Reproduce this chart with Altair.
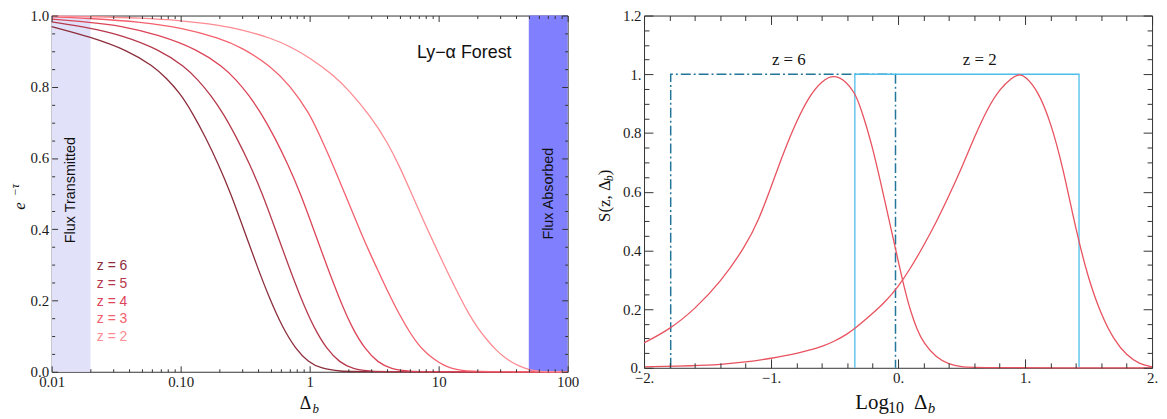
import altair as alt
import pandas as pd

# ---------------- LEFT PANEL DATA: e^{-tau} vs Delta_b ----------------
z_names = ["z = 6", "z = 5", "z = 4", "z = 3", "z = 2"]
z_colors = ["#8c2d3b", "#b6394b", "#dc4457", "#f4606d", "#fd8c93"]

delta_z6 = [0.01, 0.02, 0.039, 0.0615, 0.0775, 0.0975, 0.123, 0.155, 0.195, 0.245, 0.308, 0.388,
            0.489, 0.615, 0.775, 0.976, 1.23, 1.73, 2.45, 100]
flux_z6 = [0.969, 0.940, 0.902, 0.858, 0.824, 0.785, 0.728, 0.660, 0.585, 0.500, 0.400, 0.300,
           0.205, 0.125, 0.065, 0.027, 0.009, 0.001, 0.0, 0.0]

delta_z5 = [0.01, 0.02, 0.0341, 0.0682, 0.108, 0.136, 0.171, 0.216, 0.271, 0.342, 0.43, 0.541,
            0.682, 0.858, 1.08, 1.36, 1.71, 2.15, 3.04, 4.3, 100]
flux_z5 = [0.982, 0.965, 0.946, 0.905, 0.856, 0.820, 0.777, 0.723, 0.658, 0.584, 0.500, 0.401,
           0.300, 0.205, 0.123, 0.063, 0.026, 0.008, 0.001, 0.0, 0.0]

delta_z4 = [0.01, 0.02, 0.0339, 0.0675, 0.135, 0.213, 0.269, 0.338, 0.426, 0.536, 0.675, 0.85,
            1.07, 1.35, 1.70, 2.13, 2.69, 3.38, 4.26, 6.01, 8.5, 100]
flux_z4 = [0.990, 0.981, 0.972, 0.946, 0.905, 0.856, 0.820, 0.777, 0.723, 0.658, 0.584, 0.500,
           0.401, 0.300, 0.205, 0.123, 0.063, 0.026, 0.008, 0.001, 0.0, 0.0]

delta_z3 = [0.01, 0.02, 0.05, 0.1, 0.2, 0.3, 0.5, 0.7, 1.0, 1.18, 1.5, 2.0, 2.5, 3.0, 3.4, 4.0,
            5.0, 6.1, 7.0, 8.0, 9.3, 11.0, 12.4, 15.0, 20.0, 100]
flux_z3 = [0.996, 0.992, 0.982, 0.966, 0.937, 0.910, 0.858, 0.805, 0.725, 0.668, 0.585, 0.475,
           0.390, 0.325, 0.283, 0.228, 0.158, 0.105, 0.075, 0.053, 0.034, 0.018, 0.010, 0.003,
           0.0, 0.0]

delta_z2 = [0.01, 0.02, 0.05, 0.1, 0.2, 0.3, 0.5, 0.7, 1.0, 1.5, 2.0, 3.0, 4.0, 5.0, 6.0, 7.0,
            8.0, 10.0, 12.0, 14.6, 17.0, 20.0, 24.0, 28.0, 32.0, 36.0, 42.0, 50.0, 60.0, 70.0, 100]
flux_z2 = [0.999, 0.997, 0.993, 0.986, 0.973, 0.960, 0.937, 0.914, 0.882, 0.835, 0.792, 0.715,
           0.645, 0.575, 0.510, 0.455, 0.408, 0.332, 0.272, 0.210, 0.165, 0.123, 0.087, 0.060,
           0.042, 0.029, 0.016, 0.006, 0.0015, 0.0, 0.0]

band_names = ["Flux Transmitted", "Flux Absorbed"]
band_start = [0.01, 50]
band_end = [0.02, 100]
band_colors = ["#e1e1f9", "#8080ff"]
band_text_x = [0.0142, 71.5]
band_text_y = [0.51, 0.50]

legend_x = [0.0224] * 5
legend_y = [0.285, 0.234, 0.186, 0.136, 0.086]

forest_text = ["Ly\u2212\u03b1 Forest"]
forest_x = [15.8]
forest_y = [0.88]

left_x_major = [0.01, 0.1, 1, 10, 100]
left_x_major_labels = ["0.01", "0.10", "1", "10", "100"]
left_x_minor = [0.02, 0.03, 0.04, 0.05, 0.06, 0.07, 0.08, 0.09,
                0.2, 0.3, 0.4, 0.5, 0.6, 0.7, 0.8, 0.9,
                2, 3, 4, 5, 6, 7, 8, 9,
                20, 30, 40, 50, 60, 70, 80, 90]
left_y_major = [0.0, 0.2, 0.4, 0.6, 0.8, 1.0]
left_y_major_labels = ["0.0", "0.2", "0.4", "0.6", "0.8", "1.0"]
left_y_minor = [0.05, 0.1, 0.15, 0.25, 0.3, 0.35, 0.45, 0.5, 0.55, 0.65, 0.7, 0.75, 0.85, 0.9, 0.95]

# ---------------- RIGHT PANEL DATA: S(z, Delta_b) vs log10 Delta_b ----------------
s_z6_x = [-2.0, -1.8, -1.6, -1.4, -1.2, -1.1, -1.0, -0.9, -0.8, -0.7, -0.6, -0.5, -0.4, -0.34,
          -0.3, -0.2, -0.1, -0.02, 0.05, 0.1, 0.15, 0.2, 0.3, 0.4, 0.5, 0.6, 2.0]
s_z6_y = [0.085, 0.13, 0.20, 0.29, 0.415, 0.50, 0.615, 0.735, 0.84, 0.925, 0.978, 1.0, 0.972, 0.935,
          0.895, 0.755, 0.56, 0.405, 0.27, 0.19, 0.13, 0.085, 0.035, 0.012, 0.003, 0.0, 0.0]

s_z2_x = [-2.0, -1.6, -1.4, -1.2, -1.0, -0.8, -0.7, -0.6, -0.5, -0.4, -0.34, -0.2, -0.1, 0.0, 0.1,
          0.2, 0.3, 0.4, 0.5, 0.6, 0.7, 0.8, 0.9, 0.95, 1.0, 1.1, 1.2, 1.3, 1.4, 1.5, 1.6, 1.7,
          1.8, 1.9, 2.0]
s_z2_y = [0.003, 0.007, 0.011, 0.019, 0.032, 0.048, 0.060, 0.072, 0.090, 0.115, 0.133, 0.185,
          0.225, 0.275, 0.340, 0.415, 0.495, 0.585, 0.680, 0.785, 0.880, 0.950, 0.990, 1.0, 0.995,
          0.945, 0.840, 0.680, 0.470, 0.300, 0.180, 0.095, 0.042, 0.013, 0.003]

box_z6_x = [-1.79, -1.79, -0.02, -0.02]
box_z6_y = [0.0, 1.0, 1.0, 0.0]
box_z2_x = [-0.34, -0.34, 1.425, 1.425]
box_z2_y = [0.0, 1.0, 1.0, 0.0]

zlabel_text = ["z = 6", "z = 2"]
zlabel_x = [-0.86, 0.643]
zlabel_y = [1.03, 1.03]

right_x_major = [-2, -1, 0, 1, 2]
right_x_major_labels = ["\u22122.", "\u22121.", "0.", "1.", "2."]
right_x_minor = [-1.8, -1.6, -1.4, -1.2, -0.8, -0.6, -0.4, -0.2, 0.2, 0.4, 0.6, 0.8,
                 1.2, 1.4, 1.6, 1.8]
right_y_major = [0.0, 0.2, 0.4, 0.6, 0.8, 1.0, 1.2]
right_y_major_labels = ["0.", "0.2", "0.4", "0.6", "0.8", "1.", "1.2"]
right_y_minor = [0.05, 0.1, 0.15, 0.25, 0.3, 0.35, 0.45, 0.5, 0.55, 0.65, 0.7, 0.75, 0.85, 0.9,
                 0.95, 1.05, 1.1, 1.15]

# ---------------- helpers ----------------
SERIF = "Liberation Serif"
SANS = "Liberation Sans"


def label_expr(values, labels):
    parts = " : ".join(
        "abs(datum.value - (%r)) < 1e-9 ? '%s'" % (v, l) for v, l in zip(values, labels)
    )
    return parts + " : ''"


def tick_axis(orient, values, size, labels=None):
    kw = dict(orient=orient, values=values, tickSize=size, offset=-size, domain=False,
              grid=False, ticks=True, tickColor="#333333", tickWidth=1, title=None,
              zindex=1, labelFlush=False, labelOverlap=False)
    if labels is not None:
        kw.update(labels=True, labelExpr=label_expr(values, labels), labelFont=SERIF,
                  labelFontSize=15, labelColor="#1a1a1a", labelPadding=3)
    else:
        kw.update(labels=False)
    return alt.Axis(**kw)


def title_text(text, x, y, size, italic=False, angle=0, align="center", baseline="alphabetic",
               font=SERIF):
    return alt.Chart(pd.DataFrame({"t": [text]})).mark_text(
        font=font, fontSize=size, fontStyle="italic" if italic else "normal", angle=angle,
        align=align, baseline=baseline, color="#111111"
    ).encode(x=alt.value(x), y=alt.value(y), text="t:N")


# ---------------- LEFT PANEL ----------------
LW, LH = 520, 359
xs_l = alt.Scale(type="log", domain=[0.01, 100], nice=False)
ys_l = alt.Scale(domain=[0, 1], nice=False)

rows = []
for name, dl, fl in zip(z_names, [delta_z6, delta_z5, delta_z4, delta_z3, delta_z2],
                        [flux_z6, flux_z5, flux_z4, flux_z3, flux_z2]):
    for i, (d, f) in enumerate(zip(dl, fl)):
        rows.append({"z": name, "delta": d, "flux": f, "i": i})
curves_df = pd.DataFrame(rows)

bands_df = pd.DataFrame({"band": band_names, "x0": band_start, "x1": band_end,
                         "y0": [0, 0], "y1": [1, 1]})
band_text_df = pd.DataFrame({"t": band_names, "x": band_text_x, "y": band_text_y})
legend_df = pd.DataFrame({"z": z_names, "x": legend_x, "y": legend_y})
forest_df = pd.DataFrame({"t": forest_text, "x": forest_x, "y": forest_y})
zcolor = alt.Color("z:N", scale=alt.Scale(domain=z_names, range=z_colors), legend=None)

band_layer = alt.Chart(bands_df).mark_rect().encode(
    x=alt.X("x0:Q", scale=xs_l,
            axis=tick_axis("bottom", left_x_major, 6, left_x_major_labels)),
    x2="x1:Q",
    y=alt.Y("y0:Q", scale=ys_l,
            axis=tick_axis("left", left_y_major, 6, left_y_major_labels)),
    y2="y1:Q",
    fill=alt.Fill("band:N", scale=alt.Scale(domain=band_names, range=band_colors), legend=None),
)

curve_layer = alt.Chart(curves_df).mark_line(strokeWidth=1.3, interpolate="basis").encode(
    x=alt.X("delta:Q", scale=xs_l, axis=tick_axis("bottom", left_x_minor, 3)),
    y=alt.Y("flux:Q", scale=ys_l, axis=tick_axis("left", left_y_minor, 3)),
    color=zcolor,
    detail="z:N",
    order="i:Q",
)

legend_layer = alt.Chart(legend_df).mark_text(
    font=SANS, fontSize=14, align="left", baseline="alphabetic"
).encode(
    x=alt.X("x:Q", scale=xs_l, axis=tick_axis("top", left_x_major, 6)),
    y=alt.Y("y:Q", scale=ys_l, axis=tick_axis("right", left_y_major, 6)),
    text="z:N",
    color=zcolor,
)

band_text_layer = alt.Chart(band_text_df).mark_text(
    font=SANS, fontSize=14.5, angle=270, align="center", baseline="middle", color="#111111"
).encode(
    x=alt.X("x:Q", scale=xs_l, axis=tick_axis("top", left_x_minor, 3)),
    y=alt.Y("y:Q", scale=ys_l, axis=tick_axis("right", left_y_minor, 3)),
    text="t:N",
)

forest_layer = alt.Chart(forest_df).mark_text(
    font=SANS, fontSize=18, align="center", baseline="alphabetic", color="#111111"
).encode(
    x=alt.X("x:Q", scale=xs_l, axis=None),
    y=alt.Y("y:Q", scale=ys_l, axis=None),
    text="t:N",
)

left = alt.layer(
    band_layer, curve_layer, legend_layer, band_text_layer, forest_layer,
    title_text("\u0394", 250, 397, 18, align="left"),
    title_text("b", 263, 401, 13, italic=True, align="left"),
    title_text("e", -32, 192, 17, italic=True, angle=270, baseline="middle"),
    title_text("\u2212\u03c4", -37, 176, 12, italic=True, angle=270, baseline="middle"),
).resolve_axis(x="independent", y="independent").properties(width=LW, height=LH)

# ---------------- RIGHT PANEL ----------------
RW, RH = 512, 355
xs_r = alt.Scale(domain=[-2, 2], nice=False)
ys_r = alt.Scale(domain=[0, 1.2], nice=False)

srows = []
for name, xl, yl in zip(["z6", "z2"], [s_z6_x, s_z2_x], [s_z6_y, s_z2_y]):
    for i, (a, b) in enumerate(zip(xl, yl)):
        srows.append({"z": name, "lx": a, "s": b, "i": i})
s_df = pd.DataFrame(srows)

box6_df = pd.DataFrame({"lx": box_z6_x, "s": box_z6_y, "i": list(range(len(box_z6_x)))})
box2_df = pd.DataFrame({"lx": box_z2_x, "s": box_z2_y, "i": list(range(len(box_z2_x)))})
zlabel_df = pd.DataFrame({"t": zlabel_text, "lx": zlabel_x, "s": zlabel_y})

box6_layer = alt.Chart(box6_df).mark_line(
    color="#23769a", strokeWidth=1.5, strokeDash=[10, 3, 2, 3]
).encode(
    x=alt.X("lx:Q", scale=xs_r,
            axis=tick_axis("bottom", right_x_major, 9, right_x_major_labels)),
    y=alt.Y("s:Q", scale=ys_r,
            axis=tick_axis("left", right_y_major, 9, right_y_major_labels)),
    order="i:Q",
)

box2_layer = alt.Chart(box2_df).mark_line(color="#4dbde9", strokeWidth=1.3).encode(
    x=alt.X("lx:Q", scale=xs_r, axis=tick_axis("bottom", right_x_minor, 5)),
    y=alt.Y("s:Q", scale=ys_r, axis=tick_axis("left", right_y_minor, 5)),
    order="i:Q",
)

s_layer = alt.Chart(s_df).mark_line(
    color="#e8525f", strokeWidth=1.3, interpolate="basis"
).encode(
    x=alt.X("lx:Q", scale=xs_r, axis=tick_axis("top", right_x_major, 9)),
    y=alt.Y("s:Q", scale=ys_r, axis=tick_axis("right", right_y_major, 9)),
    detail="z:N",
    order="i:Q",
)

zlabel_layer = alt.Chart(zlabel_df).mark_text(
    font=SERIF, fontSize=17, align="center", baseline="alphabetic", color="#111111"
).encode(
    x=alt.X("lx:Q", scale=xs_r, axis=tick_axis("top", right_x_minor, 5)),
    y=alt.Y("s:Q", scale=ys_r, axis=tick_axis("right", right_y_minor, 5)),
    text="t:N",
)

right = alt.layer(
    box6_layer, box2_layer, s_layer, zlabel_layer,
    title_text("Log", 213, 397, 21, align="left"),
    title_text("10", 246, 401, 16, align="left"),
    title_text("\u0394", 272, 397, 21, align="left"),
    title_text("b", 286, 401, 15, italic=True, align="left"),
    title_text("S(z, \u0394", -34, 208, 17, angle=270, align="left"),
    title_text("b", -31, 167, 12, italic=True, angle=270, align="left"),
    title_text(")", -34, 161, 17, angle=270, align="left"),
).resolve_axis(x="independent", y="independent").properties(width=RW, height=RH)

chart = alt.hconcat(left, right, spacing=16).configure_view(
    stroke="#333333", strokeWidth=1
).properties(padding={"left": 0, "top": -2, "right": 0, "bottom": 0})

chart.save("out.html", embed_options={"renderer": "svg", "actions": False})
